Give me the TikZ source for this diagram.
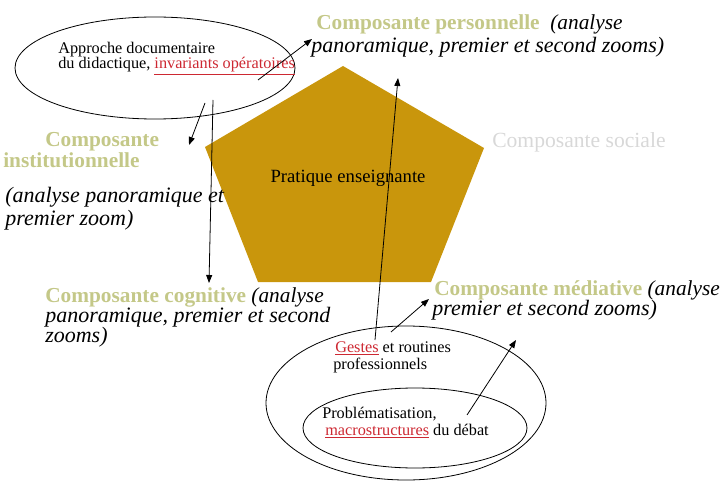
\documentclass[tikz,border=0pt]{standalone}
\usepackage{fontspec}
\setmainfont{Liberation Serif}
\usetikzlibrary{arrows.meta}

\definecolor{gold}{RGB}{201,150,12}
\definecolor{olive}{RGB}{196,200,136}
\definecolor{socgrey}{RGB}{216,216,216}
\definecolor{redtxt}{RGB}{205,40,50}

\newcommand{\redul}[1]{{\color{redtxt}\underline{#1}}}

\begin{document}
\begin{tikzpicture}[
	x=0.75pt,
	y=-0.75pt,
	comp/.style={
		anchor=base west,
		inner sep=0pt,
		text=olive,
		font=\fontsize{16}{20}\selectfont\bfseries
	},
	note/.style={
		anchor=base west,
		inner sep=0pt,
		font=\fontsize{16.5}{20}\selectfont\itshape
	},
	small/.style={
		anchor=base west,
		inner sep=0pt,
		font=\fontsize{12.2}{14}\selectfont
	},
	bubble/.style={
		draw=black,
		line width=0.6pt
	},
	link/.style={
		draw=black,
		line width=0.6pt,
		-{Triangle[length=6pt,width=4.5pt]}
	},
]

\useasboundingbox (0,0) rectangle (728,481);

% Pentagon
\fill[gold] (343,66) -- (484,148) -- (431,282) -- (258,282) -- (205,147) -- cycle;
\node[anchor=base, inner sep=0pt, font=\fontsize{14}{16}\selectfont] (prat) at (348,182) {Pratique enseignante};

% Ellipses
\draw[bubble] (155,68) ellipse [x radius=140, y radius=51];
\draw[bubble] (406,403) ellipse [x radius=140, y radius=77];
\draw[bubble] (415,428) ellipse [x radius=112, y radius=40];

% Ellipse texts
\node[small] (doc1) at (58,54) {Approche documentaire};
\node[small] (doc2) at (58,69) {du didactique, \redul{invariants opératoires}};
\node[small] (gest1) at (335,352) {\redul{Gestes} et routines};
\node[small] (gest2) at (333,369) {professionnels};
\node[small] (prob1) at (322,418) {Problématisation,};
\node[small] (prob2) at (325,435) {\redul{macrostructures} du débat};

% Composantes
\node[comp] (pers1) at (316,30) {Composante personnelle\ \ {\mdseries\itshape\color{black}(analyse}};
\node[note] (pers2) at (311,53) {panoramique, premier et second zooms)};

\node[anchor=base west, inner sep=0pt, text=socgrey, font=\fontsize{16.2}{20}\selectfont] (soc) at (492,148) {Composante sociale};

\node[comp] (inst1) at (45,147) {Composante};
\node[comp] (inst2) at (3,168) {institutionnelle};
\node[note] (inst3) at (5,203) {(analyse panoramique et};
\node[note] (inst4) at (5,225) {premier zoom)};

\node[comp] (cog1) at (45,302) {Composante cognitive {\mdseries\itshape\color{black}(analyse}};
\node[note] (cog2) at (45,322) {panoramique, premier et second};
\node[note] (cog3) at (45,342) {zooms)};

\node[comp] (med1) at (434,295) {Composante médiative {\mdseries\itshape\color{black}\fontsize{16}{20}\selectfont(analyse}};
\node[note] (med2) at (432,315) {premier et second zooms)};

% Arrows
\coordinate (docOut) at (258,80);
\coordinate (persIn) at (312,39);
\coordinate (docDown) at (205,103);
\coordinate (instIn) at (189,145);
\coordinate (docLong) at (213,100);
\coordinate (cogIn) at (209,283);
\coordinate (gestUp) at (375,340);
\coordinate (pentIn) at (398,78);
\coordinate (gestOut) at (391,332);
\coordinate (medIn) at (429,299);
\coordinate (probOut) at (467,415);
\coordinate (medIn2) at (516,340);

\draw[link] (docOut) -- (persIn);
\draw[link] (docDown) -- (instIn);
\draw[link] (docLong) -- (cogIn);
\draw[link] (gestUp) -- (pentIn);
\draw[link] (gestOut) -- (medIn);
\draw[link] (probOut) -- (medIn2);

\end{tikzpicture}
\end{document}
